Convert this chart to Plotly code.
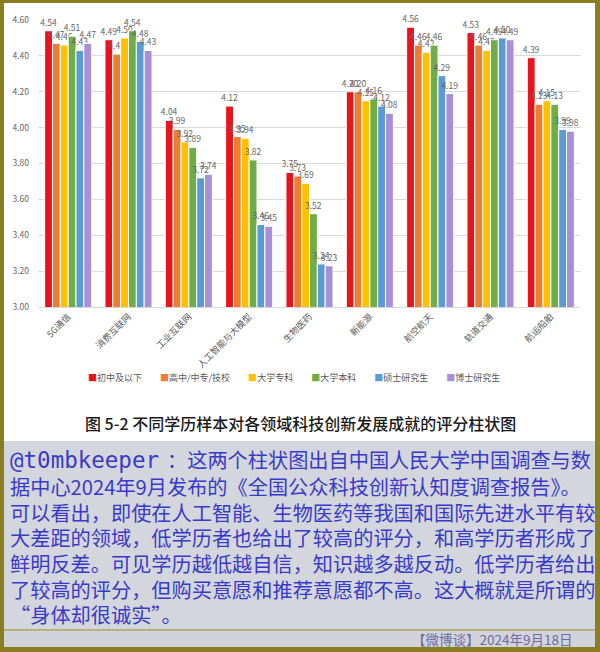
import plotly.graph_objects as go

categories = ["5G通信", "消费互联网", "工业互联网", "人工智能与大模型", "生物医药",
              "新能源", "航空航天", "轨道交通", "航运船舶"]
series_names = ["初中及以下", "高中/中专/技校", "大学专科", "大学本科", "硕士研究生", "博士研究生"]

junior_high = [4.54, 4.49, 4.04, 4.12, 3.75, 4.20, 4.56, 4.53, 4.39]
high_school = [4.47, 4.41, 3.99, 3.95, 3.73, 4.20, 4.46, 4.46, 4.13]
college = [4.46, 4.50, 3.92, 3.94, 3.69, 4.15, 4.42, 4.43, 4.15]
bachelor = [4.51, 4.54, 3.89, 3.82, 3.52, 4.16, 4.46, 4.49, 4.13]
master = [4.43, 4.48, 3.72, 3.46, 3.24, 4.12, 4.29, 4.50, 3.99]
doctor = [4.47, 4.43, 3.74, 3.45, 3.23, 4.08, 4.19, 4.49, 3.98]

y_ticks = [3.00, 3.20, 3.40, 3.60, 3.80, 4.00, 4.20, 4.40, 4.60]

caption = "图 5-2 不同学历样本对各领域科技创新发展成就的评分柱状图"
comment_handle = "@t0mbkeeper"
comment_lines = [
    "：这两个柱状图出自中国人民大学中国调查与数",
    "据中心2024年9月发布的《全国公众科技创新认知度调查报告》。",
    "可以看出，即使在人工智能、生物医药等我国和国际先进水平有较",
    "大差距的领域，低学历者也给出了较高的评分，和高学历者形成了",
    "鲜明反差。可见学历越低越自信，知识越多越反动。低学历者给出",
    "了较高的评分，但购买意愿和推荐意愿都不高。这大概就是所谓的",
    "“身体却很诚实”。",
]
footer = "【微博谈】2024年9月18日"

series_values = [junior_high, high_school, college, bachelor, master, doctor]
colors = ["#E8141B", "#ED7D31", "#FFC000", "#70AD47", "#5B9BD5", "#A98FD8"]

FW, FH = 600, 652
L, R, T, B = 38, 19, 20, 345
PW = FW - L - R
PH = FH - T - B


def px(x):
    return (x - L) / PW


def py(y):
    return (FH - B - y) / PH


CJK = "Noto Sans CJK SC"
fig = go.Figure()
for name, vals, col in zip(series_names, series_values, colors):
    fig.add_trace(go.Bar(
        name=name, x=categories, y=vals,
        marker=dict(color=col, line=dict(color="white", width=1)),
        text=[f"{v:.2f}" for v in vals], textposition="outside",
        textfont=dict(size=8.5, color="#666666", family=CJK),
        constraintext="none", cliponaxis=False, showlegend=False,
    ))

shapes = []
olive = "#8C7D22"
shapes.append(dict(type="rect", xref="paper", yref="paper", layer="below",
                   x0=px(4), x1=px(595), y0=py(3), y1=py(441),
                   fillcolor="white", line=dict(width=0)))
shapes.append(dict(type="rect", xref="paper", yref="paper", layer="below",
                   x0=px(4), x1=px(595), y0=py(441), y1=py(629),
                   fillcolor="#D4D6DD", line=dict(width=0)))
shapes.append(dict(type="rect", xref="paper", yref="paper", layer="below",
                   x0=px(4), x1=px(595), y0=py(629), y1=py(630.5),
                   fillcolor="#BBAA70", line=dict(width=0)))
shapes.append(dict(type="rect", xref="paper", yref="paper", layer="below",
                   x0=px(4), x1=px(595), y0=py(630.5), y1=py(647),
                   fillcolor="#D1D3D8", line=dict(width=0)))

annotations = []
legend_text = "\u3000\u3000".join(
    f'<span style="color:{c}">■</span>{n}' for n, c in zip(series_names, colors))
annotations.append(dict(xref="paper", yref="paper", x=px(294), y=py(377),
                        xanchor="center", yanchor="middle", showarrow=False,
                        text=legend_text, font=dict(size=9, color="#595959", family=CJK)))
annotations.append(dict(xref="paper", yref="paper", x=px(300), y=py(423),
                        xanchor="center", yanchor="middle", showarrow=False,
                        text=caption, font=dict(size=16, color="#1A1A1A", family=CJK, weight=500)))
line_y = [460, 486, 512, 537.5, 563, 589, 614]
blue = "#3A3AC8"
annotations.append(dict(xref="paper", yref="paper", x=px(8), y=py(line_y[0]),
                        xanchor="left", yanchor="middle", showarrow=False,
                        text=comment_handle,
                        font=dict(size=22.5, color=blue, family="DejaVu Sans Mono")))
annotations.append(dict(xref="paper", yref="paper", x=px(593), y=py(line_y[0]),
                        xanchor="right", yanchor="middle", showarrow=False,
                        text=comment_lines[0], font=dict(size=20.2, color=blue, family=CJK)))
for ln, yy in zip(comment_lines[1:], line_y[1:]):
    annotations.append(dict(xref="paper", yref="paper", x=px(8), y=py(yy),
                            xanchor="left", yanchor="middle", showarrow=False,
                            text=ln, font=dict(size=20.2, color=blue, family=CJK)))
annotations.append(dict(xref="paper", yref="paper", x=px(574), y=py(639),
                        xanchor="right", yanchor="middle", showarrow=False,
                        text=footer, font=dict(size=13.5, color="#6B6BAA", family=CJK)))

fig.update_layout(
    width=FW, height=FH,
    margin=dict(l=L, r=R, t=T, b=B, pad=0),
    paper_bgcolor=olive, plot_bgcolor="white",
    barmode="group", bargap=0.22, bargroupgap=0,
    shapes=shapes, annotations=annotations,
    font=dict(family=CJK),
)
fig.update_xaxes(
    type="category", tickangle=-45, automargin=False,
    tickfont=dict(size=9, color="#595959", family=CJK),
    showline=True, linecolor="#D9D9D9", linewidth=1, ticks="",
    showgrid=False,
)
fig.update_yaxes(
    range=[3.0, 4.6], tickvals=y_ticks, tickformat=".2f", automargin=False,
    tickfont=dict(size=8.5, color="#666666", family=CJK),
    showgrid=True, gridcolor="#D9D9D9", gridwidth=1, zeroline=False,
    showline=False, ticks="", ticklabelstandoff=8,
)

fig.write_html(
    "out.html",
    config={"displayModeBar": False},
    post_script="document.body.style.margin='0';document.body.style.overflow='hidden';",
)
